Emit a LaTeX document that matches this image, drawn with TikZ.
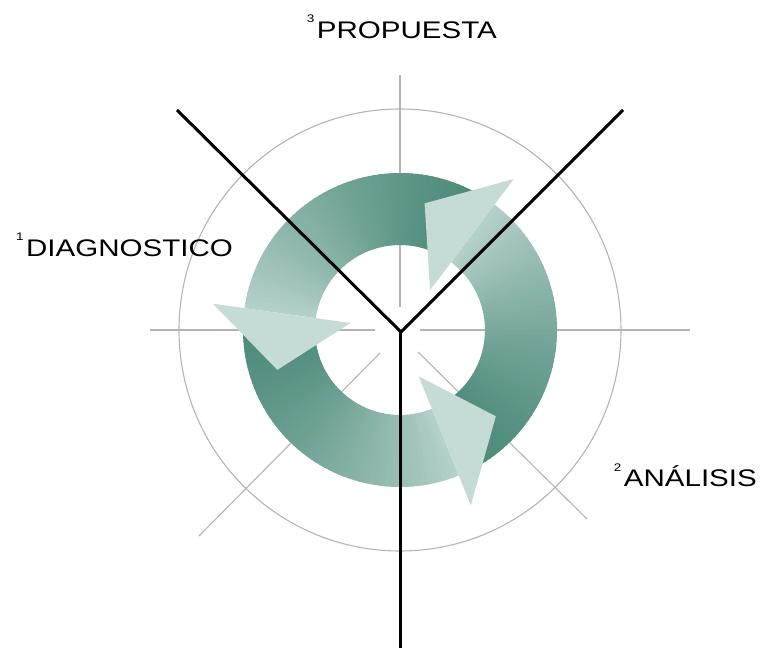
\documentclass[tikz,border=0pt]{standalone}
\usepackage{fontspec}
\setmainfont{Liberation Sans}
\usepackage{graphicx}
\definecolor{tealdark}{RGB}{76,138,123}
\definecolor{teallight}{RGB}{180,208,202}
\definecolor{headfill}{RGB}{197,219,214}
\definecolor{gridgray}{RGB}{180,180,180}
\tikzset{
  gridline/.style={draw=gridgray, line width=1.1pt},
  blackline/.style={draw=black, line width=3pt, line join=miter},
  captiontext/.style={inner sep=0pt, font=\fontsize{24pt}{24pt}\selectfont},
}
\newcommand\stagelabel[2]{\scalebox{1.23}[1]{\raisebox{16pt}{\fontsize{11pt}{11pt}\selectfont #1}\hspace{2pt}#2}}
\begin{document}
\begin{tikzpicture}[x=1pt,y=1pt]
\useasboundingbox (-400,-318) rectangle (364,330);
\coordinate (c) at (0,0);
% background grid
\draw[gridline] (c) circle[radius=221];
\draw[gridline] (-250,0) -- (-25,0);
\draw[gridline] (20,0) -- (290,0);
\draw[gridline] (0,23) -- (0,255);
\draw[gridline] (-20,-23) -- (-201,-206);
\draw[gridline] (18,-22) -- (187,-189);
% ring bodies with gradient
\foreach \h in {53,172,292} {
  \foreach \i in {0,...,59} {
    \pgfmathsetmacro\a{\h-118+\i*118/60}
    \pgfmathsetmacro\b{min(\a+118/60+0.6,\h)}
    \pgfmathtruncatemacro\t{100*(\i/59)^1.4}
    \fill[teallight!\t!tealdark] (\a:85) arc[start angle=\a, end angle=\b, radius=85]
      -- (\b:157) arc[start angle=\b, end angle=\a, radius=157] -- cycle;
  }
}
% arrow heads
\foreach \h in {53,172,292} {
  \pgfmathsetmacro\tp{\h+26}
  \fill[headfill] (\h:50) -- (\h:189) -- (\tp:129) -- cycle;
}
% black Y
\coordinate (hub) at (1,-2);
\coordinate (ul) at (-223,220);
\coordinate (ur) at (223,220);
\coordinate (bot) at (1,-320);
\draw[blackline] (ul) -- (hub) -- (ur);
\draw[blackline] (hub) -- (bot);
% labels
\node[captiontext, anchor=base east] (prop) at (97,291) {\stagelabel{3}{PROPUESTA}};
\node[captiontext, anchor=base east] (diag) at (-167,73) {\stagelabel{1}{DIAGNOSTICO}};
\node[captiontext, anchor=base east] (anal) at (357,-157) {\stagelabel{2}{ANÁLISIS}};
\end{tikzpicture}
\end{document}
